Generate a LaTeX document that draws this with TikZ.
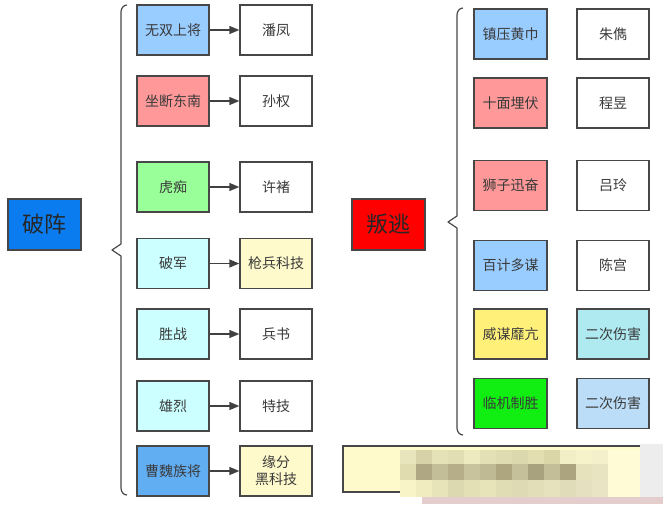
\documentclass[tikz,border=0pt]{standalone}
\usepackage{fontspec}
\newfontfamily\cjk{Noto Sans CJK SC}
\usetikzlibrary{arrows.meta}
\definecolor{cblue}{HTML}{99CCFF}
\definecolor{cred}{HTML}{FF9999}
\definecolor{cgreen}{HTML}{99FF99}
\definecolor{ccyan}{HTML}{CCFFFF}
\definecolor{cdblue}{HTML}{62AEF2}
\definecolor{cyel}{HTML}{FFFACC}
\definecolor{cyel2}{HTML}{FFF07A}
\definecolor{cbgreen}{HTML}{11EE11}
\definecolor{ccyan2}{HTML}{AEEAF0}
\definecolor{cblue2}{HTML}{BBDDF7}
\definecolor{root1}{HTML}{0A7CF0}
\definecolor{root2}{HTML}{FF0000}
\definecolor{edge}{HTML}{474747}
\definecolor{txt}{HTML}{3A3A3A}
\tikzset{
  box/.style={draw=edge, line width=1.4pt, minimum width=72pt, minimum height=50pt,
    inner sep=1pt, align=center, font=\cjk\fontsize{14}{17}\selectfont, text=txt},
  rootbox/.style={draw=edge, line width=1.4pt, minimum width=73pt, minimum height=51pt,
    font=\cjk\fontsize{22}{26}\selectfont, text=black!85},
  arr/.style={draw=edge!90!black, line width=1.4pt, -{Triangle[length=10pt,width=8pt]}},
  brace/.style={draw=edge, line width=1.2pt, line join=round}
}
\begin{document}
\begin{tikzpicture}[x=1pt,y=-1pt]
\useasboundingbox (0,0) rectangle (663,504);
\fill[white] (0,0) rectangle (663,504);
% left root
\node[rootbox, fill=root1] (pz) at (44.5,224.5) {破阵};
\draw[brace] (127,5) to[out=180,in=90] (121,12) -- (121,244) -- (112,250) -- (121,256) -- (121,488) to[out=-90,in=180] (127,495);
% left rows
\node[box, fill=cblue] (a1) at (173,30) {无双上将};
\node[box, fill=white] (b1) at (276,30) {潘凤};
\node[box, fill=cred] (a2) at (173,101) {坐断东南};
\node[box, fill=white] (b2) at (276,101) {孙权};
\node[box, fill=cgreen] (a3) at (173,187) {虎痴};
\node[box, fill=white] (b3) at (276,187) {许褚};
\node[box, fill=ccyan] (a4) at (173,263.5) {破军};
\node[box, fill=cyel] (b4) at (276,263.5) {枪兵科技};
\node[box, fill=ccyan] (a5) at (173,334) {胜战};
\node[box, fill=white] (b5) at (276,334) {兵书};
\node[box, fill=ccyan] (a6) at (173,406) {雄烈};
\node[box, fill=white] (b6) at (276,406) {特技};
\node[box, fill=cdblue] (a7) at (173,471) {曹魏族将};
\node[box, fill=cyel] (b7) at (276,471) {缘分\\黑科技};
\foreach \i in {1,...,7} \draw[arr] (a\i) -- (b\i);
% right root
\node[rootbox, fill=root2] (pt) at (388.5,224.5) {叛逃};
\draw[brace] (463,8) to[out=180,in=90] (457,15) -- (457,216) -- (448,222) -- (457,228) -- (457,428) to[out=-90,in=180] (463,435);
\node[box, fill=cblue, minimum width=73pt] (c1) at (510.5,34) {镇压黄巾};
\node[box, fill=white] (d1) at (613,34) {朱儁};
\node[box, fill=cred, minimum width=73pt] (c2) at (510.5,103) {十面埋伏};
\node[box, fill=white] (d2) at (613,103) {程昱};
\node[box, fill=cred, minimum width=73pt] (c3) at (510.5,185.5) {狮子迅奋};
\node[box, fill=white] (d3) at (613,185.5) {吕玲};
\node[box, fill=cblue, minimum width=73pt] (c4) at (510.5,265.5) {百计多谋};
\node[box, fill=white] (d4) at (613,265.5) {陈宫};
\node[box, fill=cyel2, minimum width=73pt] (c5) at (510.5,334) {威谋靡亢};
\node[box, fill=ccyan2] (d5) at (613,334) {二次伤害};
\node[box, fill=cbgreen, minimum width=73pt] (c6) at (510.5,403.5) {临机制胜};
\node[box, fill=cblue2] (d6) at (613,403.5) {二次伤害};
% bottom note box
\node[draw=edge, line width=1.4pt, fill=cyel, minimum width=301pt, minimum height=46pt, inner sep=0pt] (note) at (493.5,469) {};
% mosaic
\def\toprow{{"E8E4BC","D8D2A8","E6E2B8","E2DEB4","EEEAC0","E4E0B6","E0DCB2","DCD8AE","E2DEB2","DAD6A8","F2EEC6","F6F2CA","F4F0CC"}}
\def\midrow{{"E0DCB0","AFA784","C4BE98","B5AE88","C9C39D","C0BA94","ADA67E","C6C09A","A9A27E","C4BE98","ABA47E","E6E2BC","E8E4C2"}}
\def\botrow{{"F8F4C8","F0ECC0","E8E4BA","DCD8B0","E4E0B6","E8E4BA","E0DCB4","DEDAB4","E2DEB8","E6E2BE","E0DCBA","E4E0C0","E8E4C4"}}
\foreach \k in {0,...,12}{
  \pgfmathsetmacro{\xa}{400+16*\k}
  \pgfmathparse{\toprow[\k]}\edef\ca{\pgfmathresult}
  \pgfmathparse{\midrow[\k]}\edef\cb{\pgfmathresult}
  \pgfmathparse{\botrow[\k]}\edef\cc{\pgfmathresult}
  \definecolor{mA}{HTML}{\ca}\definecolor{mB}{HTML}{\cb}\definecolor{mC}{HTML}{\cc}
  \fill[mA] (\xa,450) rectangle ++(16,14);
  \fill[mB] (\xa,464) rectangle ++(16,16);
  \fill[mC] (\xa,480) rectangle ++(16,17);
}
\fill[cyel!80!white] (608,450) rectangle (640,497);
\fill[black!7] (640,444) rectangle (663,497);
\fill[gray!70!red!30] (422,497) rectangle (663,504);
\end{tikzpicture}
\end{document}
